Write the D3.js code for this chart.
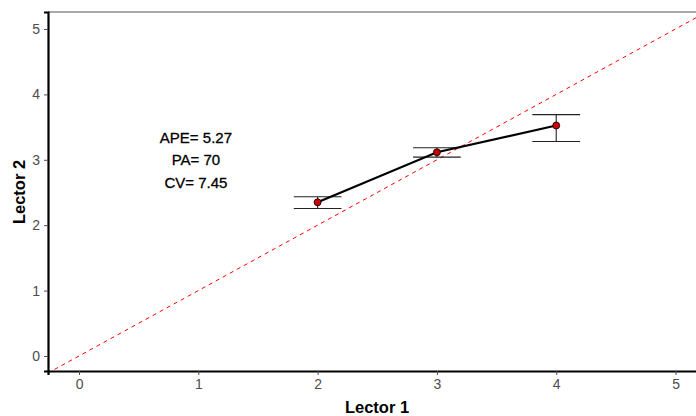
<!DOCTYPE html>
<html lang="en">
<head>
<meta charset="utf-8"/>
<title>Lector 1 vs Lector 2</title>
<script src="https://cdn.jsdelivr.net/npm/d3@7"></script>
<style>
  body { margin: 0; background: #fff; }
  .tick text { font-family: "Liberation Sans", Arial, sans-serif; font-size: 14px; fill: #4d4d4d; }
  .title { font-family: "Liberation Sans", Arial, sans-serif; font-size: 16.5px; font-weight: bold; fill: #000; }
  .stat { font-family: "Liberation Sans", Arial, sans-serif; font-size: 15px; fill: #000; stroke: #000; stroke-width: 0.3px; }
</style>
</head>
<body>
<script>
  // data
  var lector1 = [2, 3, 4];
  var meanL2  = [2.35, 3.115, 3.525];
  var lowL2   = [2.255, 3.04, 3.28];
  var highL2  = [2.435, 3.185, 3.69];
  var ticks   = [0, 1, 2, 3, 4, 5];
  var stats   = ["APE= 5.27", "PA= 70", "CV= 7.45"];
  var statY   = [3.32, 2.98, 2.63];

  var W = 696, H = 416;
  var panelLeft = 48, panelTop = 12, panelBottom = 371;

  var x = d3.scaleLinear().domain([-0.26, 5.3]).range([panelLeft, panelLeft + 5.56 * 119.3]);
  var y = d3.scaleLinear().domain([-0.23, 5.26]).range([panelBottom, panelTop]);

  var svg = d3.select("body").append("svg")
    .attr("width", W).attr("height", H);

  svg.append("defs").append("clipPath").attr("id", "clip")
    .append("rect").attr("x", panelLeft).attr("y", panelTop)
    .attr("width", W - panelLeft).attr("height", panelBottom - panelTop);

  // top border
  svg.append("line")
    .attr("x1", panelLeft).attr("x2", W).attr("y1", panelTop).attr("y2", panelTop)
    .attr("stroke", "#555").attr("stroke-width", 1.2);

  // identity line
  svg.append("line")
    .attr("clip-path", "url(#clip)")
    .attr("x1", x(-0.5)).attr("y1", y(-0.5))
    .attr("x2", x(6)).attr("y2", y(6))
    .attr("stroke", "#ff0000").attr("stroke-width", 1)
    .attr("stroke-dasharray", "4,4");

  // axes
  var xa = svg.append("g")
    .attr("transform", "translate(0," + panelBottom + ")")
    .call(d3.axisBottom(x).tickValues(ticks).tickSize(4).tickPadding(4).tickFormat(d3.format("d")));
  xa.select(".domain").attr("stroke", "#000").attr("stroke-width", 2.2);
  xa.selectAll(".tick line").attr("stroke", "#4d4d4d");

  var ya = svg.append("g")
    .attr("transform", "translate(" + panelLeft + ",0)")
    .call(d3.axisLeft(y).tickValues(ticks).tickSize(4).tickPadding(4).tickFormat(d3.format("d")));
  ya.select(".domain").attr("stroke", "#000").attr("stroke-width", 2.2);
  ya.selectAll(".tick line").attr("stroke", "#4d4d4d");

  // error bars
  var capHalf = 0.2;
  var eb = svg.append("g").attr("stroke", "#222").attr("stroke-width", 1.1);
  lector1.forEach(function(d, i) {
    eb.append("line").attr("x1", x(d)).attr("x2", x(d)).attr("y1", y(lowL2[i])).attr("y2", y(highL2[i]));
    eb.append("line").attr("x1", x(d - capHalf)).attr("x2", x(d + capHalf)).attr("y1", y(lowL2[i])).attr("y2", y(lowL2[i]));
    eb.append("line").attr("x1", x(d - capHalf)).attr("x2", x(d + capHalf)).attr("y1", y(highL2[i])).attr("y2", y(highL2[i]));
  });

  // mean line
  var line = d3.line()
    .x(function(d, i) { return x(lector1[i]); })
    .y(function(d) { return y(d); });
  svg.append("path")
    .datum(meanL2)
    .attr("d", line)
    .attr("fill", "none").attr("stroke", "#000").attr("stroke-width", 2.2);

  // points
  svg.selectAll(".pt")
    .data(meanL2)
    .enter().append("circle")
      .attr("class", "pt")
      .attr("cx", function(d, i) { return x(lector1[i]); })
      .attr("cy", function(d) { return y(d); })
      .attr("r", 3.5)
      .attr("fill", "#cc0000").attr("stroke", "#000").attr("stroke-width", 0.8);

  // stats annotation
  svg.selectAll(".stat")
    .data(stats)
    .enter().append("text")
      .attr("class", "stat")
      .attr("x", x(0.98))
      .attr("y", function(d, i) { return y(statY[i]); })
      .attr("text-anchor", "middle")
      .attr("dominant-baseline", "middle")
      .text(function(d) { return d; });

  // axis titles
  svg.append("text").attr("class", "title")
    .attr("x", 377).attr("y", 413)
    .attr("text-anchor", "middle")
    .text("Lector 1");

  svg.append("text").attr("class", "title")
    .attr("transform", "translate(25,192) rotate(-90)")
    .attr("text-anchor", "middle")
    .text("Lector 2");
</script>
</body>
</html>
